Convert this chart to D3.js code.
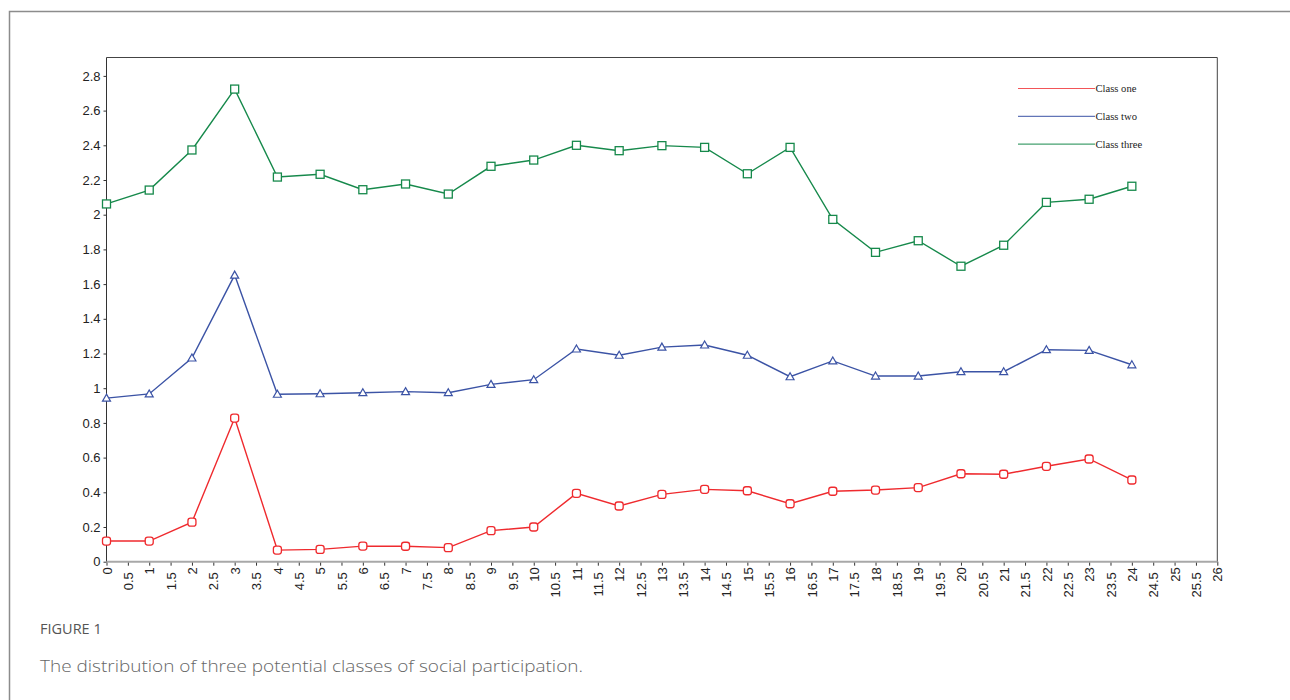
<!DOCTYPE html>
<html lang="en">
<head>
<meta charset="utf-8">
<title>Three potential classes of social participation</title>
<script src="https://d3js.org/d3.v7.min.js"></script>
<style>
  body { margin: 0; background: #fff; }
</style>
</head>
<body>
<script>
// data
var xs = d3.range(0, 25);
var classOne = [0.119, 0.119, 0.228, 0.828, 0.067, 0.071, 0.090, 0.089, 0.081, 0.179, 0.200, 0.394, 0.321,
                0.388, 0.417, 0.409, 0.334, 0.406, 0.413, 0.427, 0.507, 0.504, 0.550, 0.592, 0.471];
var classTwo = [0.943, 0.967, 1.174, 1.652, 0.965, 0.968, 0.974, 0.980, 0.974, 1.022, 1.049, 1.226, 1.190,
                1.237, 1.249, 1.190, 1.066, 1.157, 1.070, 1.070, 1.095, 1.095, 1.222, 1.218, 1.135];
var classThree = [2.062, 2.142, 2.373, 2.724, 2.217, 2.233, 2.144, 2.177, 2.119, 2.279, 2.315, 2.400, 2.369,
                  2.398, 2.388, 2.236, 2.388, 1.973, 1.783, 1.850, 1.703, 1.824, 2.071, 2.089, 2.164];
var seriesNames = ["Class one", "Class two", "Class three"];
var xTicks = d3.range(0, 26.01, 0.5);
var yTicks = d3.range(0, 2.81, 0.2);

var colors = ["#ef2a2e", "#3b53a5", "#16894b"];
var markers = ["round", "triangle", "square"];

var W = 1290, H = 700;
var svg = d3.select("body").append("svg")
    .attr("width", W).attr("height", H);

// outer figure frame (left + top only)
svg.append("path")
    .attr("d", "M9.5,700 V11.5 H1290")
    .attr("fill", "none")
    .attr("stroke", "#8c8c8c")
    .attr("stroke-width", 1.5);

// plot box edges (not "top": that name is taken by window.top)
var pLeft = 106.5, pRight = 1217.3, pTop = 57.5, pBottom = 561.7;

var x = d3.scaleLinear().domain([0, 26]).range([pLeft, pRight]);
var y = d3.scaleLinear().domain([0, 2.8]).range([pBottom, pBottom - 2.8 * 173.5]);

// plot box top and right
svg.append("path")
    .attr("d", "M" + pLeft + "," + pTop + " H" + pRight + " V" + pBottom)
    .attr("fill", "none")
    .attr("stroke", "#444")
    .attr("stroke-width", 1);

// y axis
var yAxis = svg.append("g")
    .attr("transform", "translate(" + pLeft + ",0)")
    .call(d3.axisLeft(y).tickValues(yTicks).tickSize(3).tickPadding(3)
        .tickFormat(function(d) { return String(+d.toFixed(1)); }));
yAxis.select(".domain").remove();
yAxis.append("line")
    .attr("x1", 0).attr("x2", 0).attr("y1", pTop).attr("y2", pBottom)
    .attr("stroke", "#333");
yAxis.selectAll(".tick line").attr("stroke", "#333");
yAxis.selectAll("text")
    .attr("font-family", "'Liberation Sans', Arial, sans-serif")
    .attr("font-size", "13px")
    .attr("fill", "#222");

// x axis
var xAxis = svg.append("g")
    .attr("transform", "translate(0," + pBottom + ")")
    .call(d3.axisBottom(x).tickValues(xTicks).tickSize(4)
        .tickFormat(function(d) { return String(+d.toFixed(1)); }));
xAxis.select(".domain").remove();
xAxis.append("line")
    .attr("x1", pLeft).attr("x2", pRight).attr("y1", 0).attr("y2", 0)
    .attr("stroke", "#a8a8a8").attr("stroke-width", 2);
xAxis.selectAll(".tick line").attr("stroke", "#333");
xAxis.selectAll("text")
    .attr("font-family", "'Liberation Sans', Arial, sans-serif")
    .attr("font-size", "13px")
    .attr("fill", "#222")
    .attr("text-anchor", "end")
    .attr("transform", function(d) {
        var off = (Math.round(d * 2) % 2) ? 10.5 : 5.5;
        return "translate(0," + off + ") rotate(-90)";
    })
    .attr("x", 0).attr("y", 0).attr("dy", "0.36em");

// series
var all = [classOne, classTwo, classThree];
var line = d3.line()
    .x(function(d, i) { return x(xs[i]); })
    .y(function(d) { return y(d); });

all.forEach(function(vals, k) {
    var g = svg.append("g");
    g.append("path")
        .datum(vals)
        .attr("d", line)
        .attr("fill", "none")
        .attr("stroke", colors[k])
        .attr("stroke-width", 1.4);

    var pts = g.selectAll(".pt").data(vals).enter();
    if (markers[k] === "triangle") {
        pts.append("path")
            .attr("d", function(d, i) {
                var cx = x(xs[i]), cy = y(d);
                return "M" + cx + "," + (cy - 4) + " L" + (cx + 4) + "," + (cy + 3) + " L" + (cx - 4) + "," + (cy + 3) + " Z";
            })
            .attr("fill", "#fff").attr("stroke", colors[k]).attr("stroke-width", 1.2);
    } else {
        pts.append("rect")
            .attr("x", function(d, i) { return x(xs[i]) - 4; })
            .attr("y", function(d) { return y(d) - 4; })
            .attr("width", 8).attr("height", 8)
            .attr("rx", markers[k] === "round" ? 2.5 : 0)
            .attr("fill", "#fff").attr("stroke", colors[k]).attr("stroke-width", 1.3);
    }
});

// legend
var legend = svg.append("g");
seriesNames.forEach(function(name, k) {
    var ly = 88.5 + k * 27.8;
    legend.append("line")
        .attr("x1", 1018).attr("x2", 1095).attr("y1", ly).attr("y2", ly)
        .attr("stroke", colors[k]).attr("stroke-width", 1.2).attr("stroke-opacity", 0.8);
    legend.append("text")
        .attr("x", 1095.5).attr("y", ly + 3.6)
        .attr("font-family", "'Liberation Serif', 'Times New Roman', serif")
        .attr("font-size", "10.6px")
        .attr("fill", "#222")
        .text(name);
});

// caption
svg.append("text")
    .attr("x", 40).attr("y", 634)
    .attr("font-family", "'Open Sans', sans-serif")
    .attr("font-size", "14.5px")
    .attr("fill", "#555")
    .text("FIGURE 1");
svg.append("text")
    .attr("x", 40).attr("y", 672)
    .attr("font-family", "'Open Sans', sans-serif")
    .attr("font-weight", 300)
    .attr("font-size", "17px")
    .attr("fill", "#666")
    .attr("textLength", 543)
    .attr("lengthAdjust", "spacingAndGlyphs")
    .text("The distribution of three potential classes of social participation.");
</script>
</body>
</html>
